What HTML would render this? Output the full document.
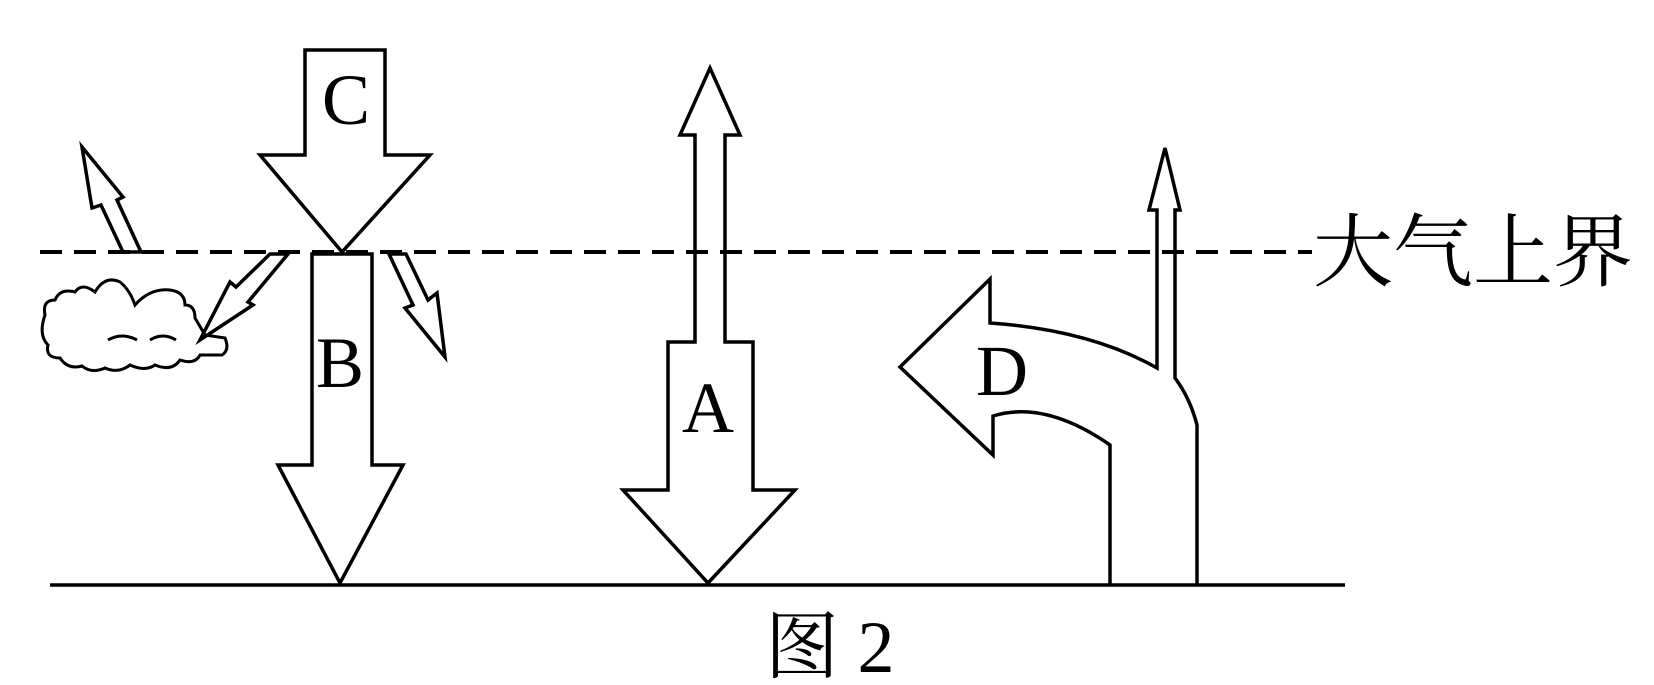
<!DOCTYPE html>
<html><head><meta charset="utf-8"><style>
html,body{margin:0;padding:0;background:#fff;}
svg{display:block;}
text{font-family:"Liberation Serif","Noto Serif CJK SC",serif;fill:#000;}
</style></head><body>
<svg width="1654" height="685" viewBox="0 0 1654 685" xmlns="http://www.w3.org/2000/svg">
<g fill="none" stroke="#000" stroke-width="3.5" stroke-linejoin="miter">
<line x1="40" y1="252" x2="1312" y2="252" stroke-dasharray="22,12" stroke-width="4"/>
<line x1="50" y1="585" x2="1345" y2="585"/>
<polygon points="305,50 385,50 385,155 430,155 342,252 260,155 305,155"/>
<polygon points="312,254 372,254 372,465 403,465 340,583 278,465 312,465"/>
<polygon points="710,68 740,135 725,135 725,342 753,342 753,490 795,490 708,583 623,490 668,490 668,342 695,342 695,135 680,135"/>
<path d="M1197,585 L1197,425 Q1190,398 1175,378 L1175,210 L1180,210 L1165,148 L1149,210 L1157,210 L1157,368 Q1090,330 990,323 L990,279 L900,367 L993,455 L993,416 Q1045,400 1110,445 L1110,585"/>
<polygon points="82,147 123,197 117,200 141,252 123,252 101,205 92,208"/>
<polygon points="288,254 248,302 253,305 200,340 230,282 236,287 270,254"/>
<polygon points="389,254 406,254 428,300 437,293 445,357 405,308 413,305"/>
<path d="M45,315 Q42,300 55,300 Q60,288 75,292 Q82,282 95,292 Q105,275 120,282 Q130,290 135,305 Q150,288 170,290 Q185,292 185,305 Q195,305 195,318 L205,335 L225,338 Q230,350 222,355 L200,355 Q195,365 180,360 Q172,372 155,365 Q145,372 130,365 Q118,374 105,368 Q92,374 82,366 Q68,370 60,358 Q45,358 48,345 Q38,335 45,315 Z" stroke-width="3"/>
<path d="M108,340 Q122,332 137,340 M150,340 Q163,332 176,340" stroke-width="3"/>
</g>
<text x="346" y="124" font-size="72" text-anchor="middle">C</text>
<text x="340" y="387" font-size="72" text-anchor="middle">B</text>
<text x="708" y="432" font-size="72" text-anchor="middle">A</text>
<text x="1002" y="395" font-size="72" text-anchor="middle">D</text>
<text x="1313" y="280" font-size="80">大气上界</text>
<text x="765" y="672" font-size="74">图 2</text>
</svg>
</body></html>
